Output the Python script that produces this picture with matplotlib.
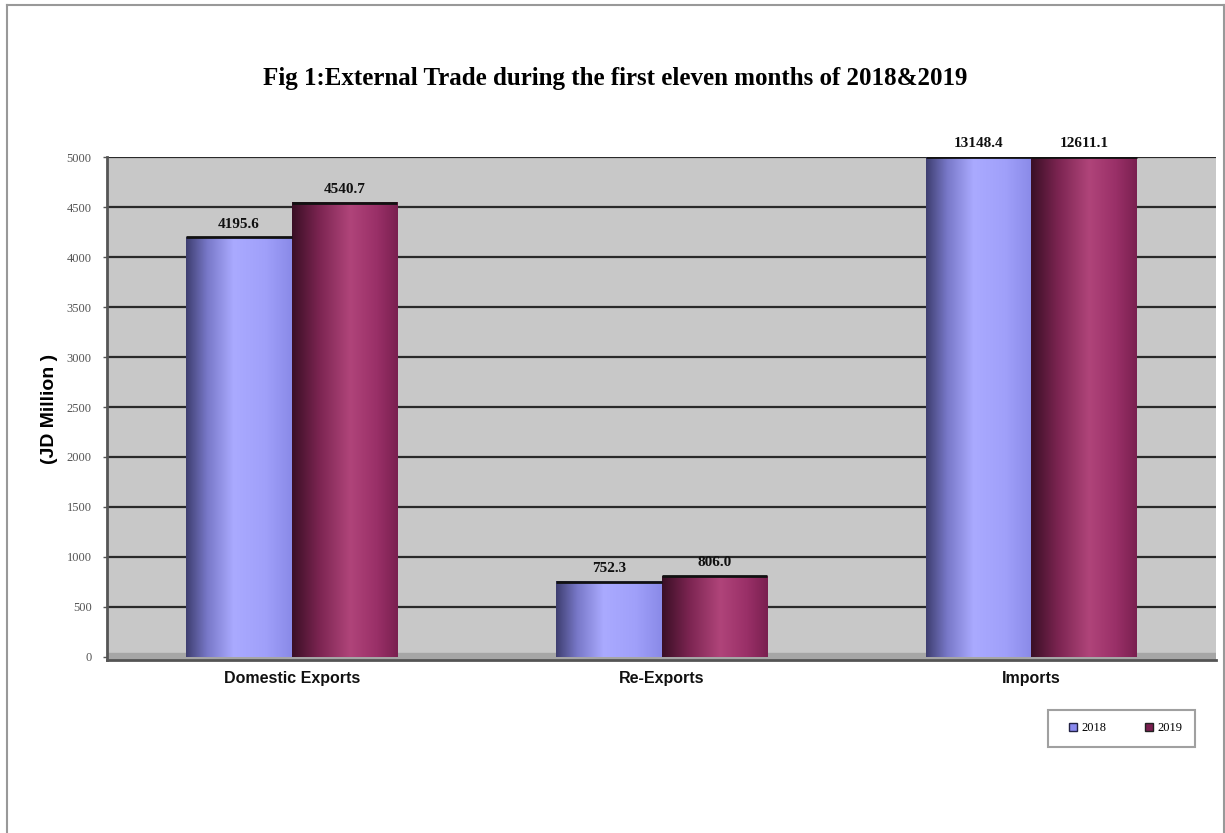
import matplotlib
matplotlib.use("Agg")
import matplotlib.pyplot as plt
import numpy as np
from matplotlib.colors import LinearSegmentedColormap
from matplotlib.lines import Line2D

categories = ["Domestic Exports", "Re-Exports", "Imports"]
years = ["2018", "2019"]
vals_2018 = [4195.6, 752.3, 13148.4]
vals_2019 = [4540.7, 806.0, 12611.1]
yticks = list(range(0, 5001, 500))

serif = "Liberation Serif"
sans = "Liberation Sans"

# cylinder-ish shading for each series
blue_cm = LinearSegmentedColormap.from_list(
    "b", [(0, "#3e3e70"), (0.2, "#7878c8"), (0.45, "#aaaaff"), (0.75, "#a0a0fa"), (1, "#8a8ae8")])
red_cm = LinearSegmentedColormap.from_list(
    "r", [(0, "#3a0f25"), (0.25, "#7a2450"), (0.55, "#b0447a"), (0.8, "#9a3068"), (1, "#7a2050")])
edge_2018 = "#8a8af0"
edge_2019 = "#8a2a5a"

fig = plt.figure(figsize=(12.25, 8.33), dpi=100)
ax = fig.add_axes([0.0873, 0.2077, 0.9054, 0.6038])
ax.set_facecolor("#c8c8c8")

ymin, ymax = -30, 5000
x = np.arange(len(categories))
w = 0.285

bars1 = ax.bar(x - w / 2, vals_2018, w, color=edge_2018, zorder=3)
bars2 = ax.bar(x + w / 2, vals_2019, w, color=edge_2019, zorder=3)

grad = np.linspace(0, 1, 256).reshape(1, -1)
for bars, cm in ((bars1, blue_cm), (bars2, red_cm)):
    for b in bars:
        x0 = b.get_x()
        top = min(b.get_height(), ymax)
        ax.imshow(grad, cmap=cm, aspect="auto", extent=[x0, x0 + b.get_width(), 0, top],
                  zorder=4, interpolation="bilinear")
        ax.plot([x0, x0 + b.get_width()], [top, top], color="#111111", lw=2, zorder=5,
                solid_capstyle="butt")

for bars in (bars1, bars2):
    for b in bars:
        v = b.get_height()
        ax.annotate(f"{v:.1f}", (b.get_x() + b.get_width() / 2, min(v, ymax)),
                    xytext=(0, 5), textcoords="offset points", ha="center", va="bottom",
                    fontsize=11, fontweight="bold", family=serif, color="#111111",
                    annotation_clip=False, zorder=6)

# floor strip
ax.axhspan(ymin, 40, color="#a6a6a6", zorder=2)

ax.set_xlim(-0.5, len(categories) - 0.5)
ax.set_ylim(ymin, ymax)
ax.set_yticks(yticks)
ax.set_yticklabels([str(t) for t in yticks], family=serif, fontsize=9, color="#555555")
ax.set_xticks(x)
ax.set_xticklabels(categories, family=sans, fontsize=11.5, fontweight="bold", color="#111111")
ax.tick_params(axis="x", length=0, pad=8)
ax.tick_params(axis="y", length=3, width=1, color="#555555", pad=8)
for t in yticks[1:]:
    ax.axhline(t, color="#2a2a2a", lw=1.6, zorder=1)
for s in ("left", "bottom"):
    ax.spines[s].set_color("#555555")
    ax.spines[s].set_linewidth(2)
ax.spines["right"].set_visible(False)
ax.spines["top"].set_visible(False)

ax.set_ylabel("(JD Million )", family=sans, fontsize=14, fontweight="bold", labelpad=6)

fig.text(0.502, 0.906, "Fig 1:External Trade during the first eleven months of 2018&2019",
         ha="center", va="center", family=serif, fontsize=18, fontweight="bold")

handles = [Line2D([], [], ls="none", marker="s", markersize=6, markerfacecolor=edge_2018,
                  markeredgecolor="#222244"),
           Line2D([], [], ls="none", marker="s", markersize=6, markerfacecolor="#7a1e50",
                  markeredgecolor="#222222")]
leg = fig.legend(handles, years, loc="center", bbox_to_anchor=(0.9155, 0.126), ncol=2,
                 frameon=True, fancybox=False, edgecolor="#888888", handletextpad=-0.3,
                 columnspacing=2.4, borderpad=1.0, prop={"family": serif, "size": 9})
leg.get_frame().set_linewidth(1.5)

# outer border of the picture
for xs, ys in (([0.006, 0.006], [0, 0.994]), ([0.006, 0.999], [0.994, 0.994]),
               ([0.999, 0.999], [0, 0.994])):
    fig.add_artist(Line2D(xs, ys, transform=fig.transFigure, color="#999999", lw=1.5))

fig.savefig("out.png", dpi=100)
